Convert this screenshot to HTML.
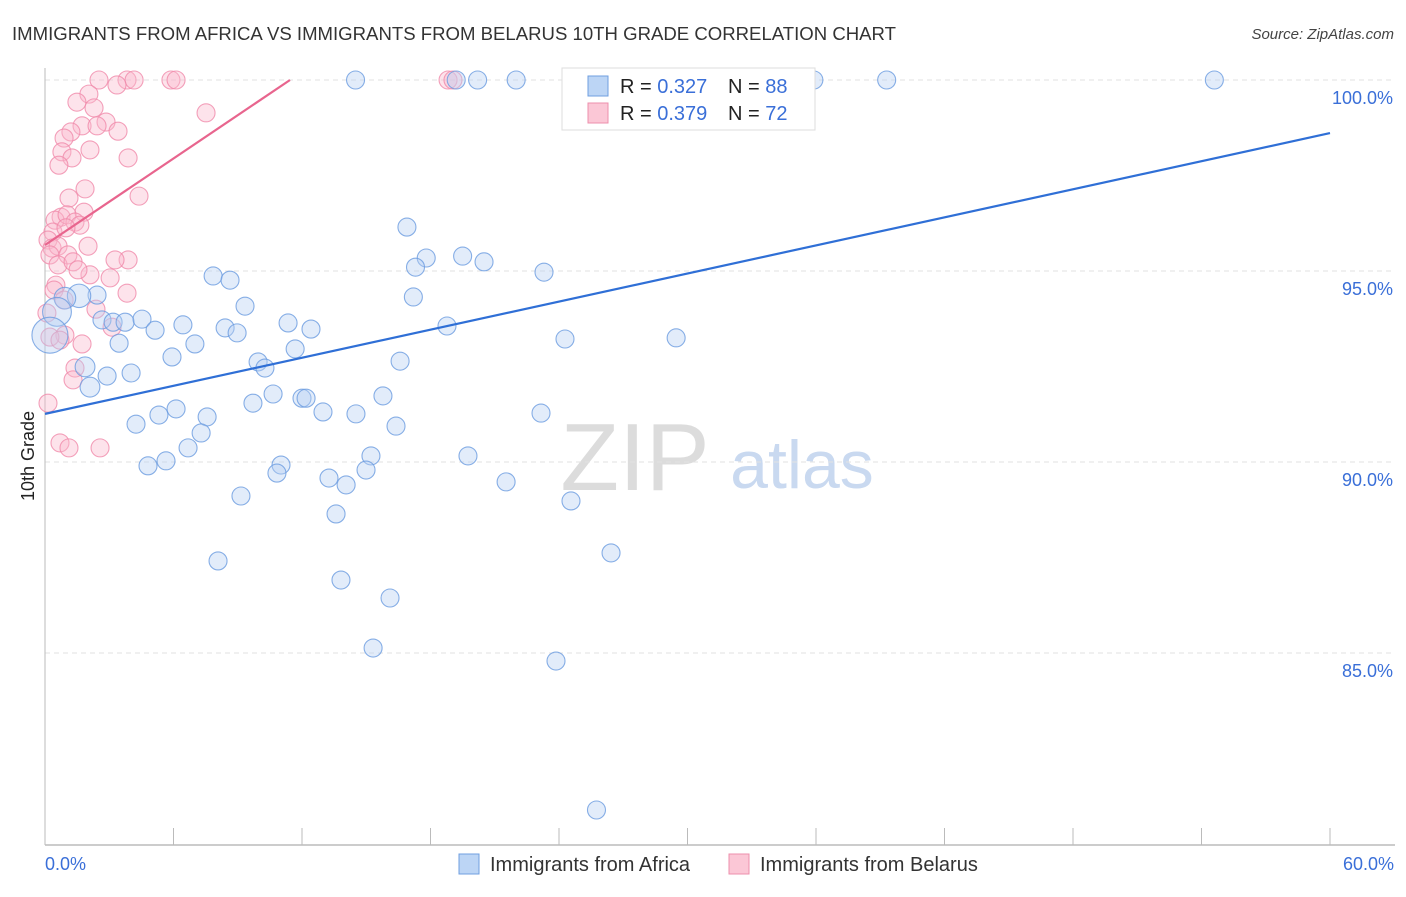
<!DOCTYPE html>
<html><head><meta charset="utf-8"><style>
body{margin:0;background:#fff;font-family:"Liberation Sans",sans-serif;}
svg text{font-family:"Liberation Sans",sans-serif;}
</style></head><body>
<svg id="c" width="1406" height="892" xmlns="http://www.w3.org/2000/svg">
<text x="12" y="40" font-size="18" fill="#333" textLength="884" lengthAdjust="spacingAndGlyphs">IMMIGRANTS FROM AFRICA VS IMMIGRANTS FROM BELARUS 10TH GRADE CORRELATION CHART</text>
<text x="1394" y="39" font-size="15" fill="#444" text-anchor="end" font-style="italic">Source: ZipAtlas.com</text>
<g>
<text x="635" y="490" font-size="96" fill="#dcdcdc" font-family="Liberation Serif" text-anchor="middle">ZIP</text>
<text x="802" y="488" font-size="68" fill="#c9d9f0" text-anchor="middle">atlas</text>
</g>
<text transform="translate(34,456) rotate(-90)" font-size="18" fill="#222" text-anchor="middle">10th Grade</text>
<g id="grid"></g><g id="axes"></g><g id="pts"></g><g id="lines"></g>
<g>
<rect x="562" y="68" width="253" height="62" fill="#fff" stroke="#ddd"/>
<rect x="588" y="76" width="20" height="20" fill="#bcd5f5" stroke="#6f9fe0"/>
<rect x="588" y="103" width="20" height="20" fill="#fbc7d6" stroke="#ee8fac"/>
<text x="620" y="93" font-size="20" fill="#222">R = <tspan fill="#3a6fd8">0.327</tspan></text>
<text x="728" y="93" font-size="20" fill="#222">N = <tspan fill="#3a6fd8">88</tspan></text>
<text x="620" y="120" font-size="20" fill="#222">R = <tspan fill="#3a6fd8">0.379</tspan></text>
<text x="728" y="120" font-size="20" fill="#222">N = <tspan fill="#3a6fd8">72</tspan></text>
</g>
<g>
<rect x="459" y="854" width="20" height="20" fill="#bcd5f5" stroke="#6f9fe0"/>
<text x="490" y="871" font-size="20" fill="#333">Immigrants from Africa</text>
<rect x="729" y="854" width="20" height="20" fill="#fbc7d6" stroke="#ee8fac"/>
<text x="760" y="871" font-size="20" fill="#333">Immigrants from Belarus</text>
</g>
</svg>
<script>
const yTicks=[100,95,90,85];
const yTickLabels=["100.0%","95.0%","90.0%","85.0%"];
const xTickLabels=["0.0%","60.0%"];
const africaX=[14.5,19.2,20.2,22.0,24.8,30.6,33.4,35.9,39.3,54.6,16.9,17.8,17.3,19.5,20.5,23.3,7.85,8.64,9.34,17.2,2.43,1.59,0.93,0.56,0.23,2.66,3.18,3.74,4.53,5.14,6.44,8.41,8.97,11.35,12.42,18.77,24.28,29.47,3.46,7.0,5.93,11.68,9.95,10.27,16.58,1.87,4.02,2.9,2.1,10.65,9.71,12.0,12.19,15.78,6.12,5.32,7.57,12.98,14.52,23.16,4.25,16.39,7.29,6.68,15.22,19.75,5.65,4.81,11.02,10.83,13.26,14.99,14.06,21.53,9.15,24.56,13.59,8.08,26.43,13.82,16.11,15.32,23.86,25.75];
const africaY=[100,100,100,100,100,100,100,100,100,100,96.15,95.34,95.1,95.39,95.24,94.97,94.87,94.76,94.08,94.32,94.37,94.35,94.29,93.93,93.32,93.72,93.66,93.66,93.74,93.45,93.59,93.51,93.38,93.64,93.48,93.56,93.22,93.25,93.11,93.09,92.75,92.96,92.62,92.46,92.64,92.49,92.33,92.25,91.96,91.78,91.54,91.67,91.67,91.73,91.39,91.23,91.18,91.31,91.26,91.28,90.99,90.94,90.76,90.37,90.16,90.16,90.03,89.9,89.92,89.71,89.58,89.79,89.4,89.48,89.11,88.98,88.64,87.41,87.62,86.91,86.44,85.13,84.79,80.89];
const africaSize=[1,1,1,1,1,1,1,1,1,1,1,1,1,1,1,1,1,1,1,1,1,1.3,1.2,1.6,2,1,1,1,1,1,1,1,1,1,1,1,1,1,1,1,1,1,1,1,1,1.1,1,1,1.1,1,1,1,1,1,1,1,1,1,1,1,1,1,1,1,1,1,1,1,1,1,1,1,1,1,1,1,1,1,1,1,1,1,1,1];
const belarusX=[2.52,3.83,4.16,5.88,6.12,18.82,19.05,3.36,2.05,1.49,2.29,7.52,2.85,1.73,2.43,1.21,3.41,0.89,2.1,0.79,1.26,3.88,0.65,1.87,4.39,1.12,1.82,0.75,0.47,1.03,1.4,0.37,1.63,0.98,0.14,0.33,0.61,0.23,1.07,2.01,3.88,3.27,0.61,1.31,2.1,1.54,0.51,3.83,0.42,0.89,2.38,0.09,3.13,1.73,0.93,1.4,1.31,0.14,0.7,1.12,2.57,0.23,3.04,0.7];
const belarusY=[100,100,100,100,100,100,100,99.87,99.63,99.42,99.27,99.14,98.9,98.8,98.8,98.64,98.66,98.48,98.17,98.12,97.96,97.96,97.77,97.15,96.96,96.91,96.54,96.41,96.33,96.47,96.28,96.02,96.2,96.13,95.81,95.6,95.65,95.42,95.42,95.65,95.29,95.29,95.16,95.24,94.9,95.03,94.63,94.42,94.5,94.24,94.0,93.9,93.53,93.09,93.32,92.46,92.15,91.54,90.5,90.37,90.37,93.27,94.82,93.19];
const africaTrend=[[0,91.26],[60,98.61]];
const belarusTrend=[[0,95.68],[11.44,100]];
const X=v=>45+v*(1285/60);
const Y=v=>80+(100-v)*38.2;
const NS="http://www.w3.org/2000/svg";
function mk(tag,attrs,parent){const e=document.createElementNS(NS,tag);for(const k in attrs)e.setAttribute(k,attrs[k]);parent.appendChild(e);return e;}
const grid=document.getElementById('grid'),axes=document.getElementById('axes'),pts=document.getElementById('pts'),lines=document.getElementById('lines');
yTicks.forEach((t,i)=>{
 const l=mk('line',{x1:45,x2:1395,y1:Y(t),y2:Y(t),stroke:'#e2e2e2','stroke-dasharray':'5,4'},grid);
 
 
 const tx=mk('text',{x:1393,y:Y(t)+24,'font-size':18,fill:'#3a6fd8','text-anchor':'end'},axes);
 tx.textContent=yTickLabels[i];
 
 
});
const yax=mk('line',{x1:45,x2:45,y1:68,y2:845,stroke:'#bbb'},axes);


const xax=mk('line',{x1:45,x2:1395,y1:845,y2:845,stroke:'#bbb','stroke-width':1.5},axes);


for(let i=0;i<=10;i++){
 const t=mk('line',{x1:X(i*6),x2:X(i*6),y1:828,y2:845,stroke:'#bbb'},axes);
 
 
}
[[0,'start',45],[60,'end',1394]].forEach((d,i)=>{
 const tx=mk('text',{x:d[2],y:870,'font-size':18,fill:'#3a6fd8','text-anchor':d[1]},axes);
 tx.textContent=xTickLabels[i];
 
 
});
function drawPts(xs,ys,sz,fill,stroke,name){
 xs.forEach((x,i)=>{
  const c=mk('circle',{cx:X(x),cy:Y(ys[i]),r:9*(sz?sz[i]:1),fill:fill,'fill-opacity':0.4,stroke:stroke,'stroke-opacity':0.8,'stroke-width':1.1},pts);
  
  
 });
}
drawPts(belarusX,belarusY,null,'#f9b9cc','#f08aaa','belarus-point');
drawPts(africaX,africaY,africaSize,'#b6d0f3','#6a9be0','africa-point');
function trend(d,color,name){
 const l=mk('line',{x1:X(d[0][0]),y1:Y(d[0][1]),x2:X(d[1][0]),y2:Y(d[1][1]),stroke:color,'stroke-width':2.2},lines);
 
 
}
trend(africaTrend,'#2f6fd6','africa-trend-line');
trend(belarusTrend,'#e8658e','belarus-trend-line');
</script>
</body></html>
